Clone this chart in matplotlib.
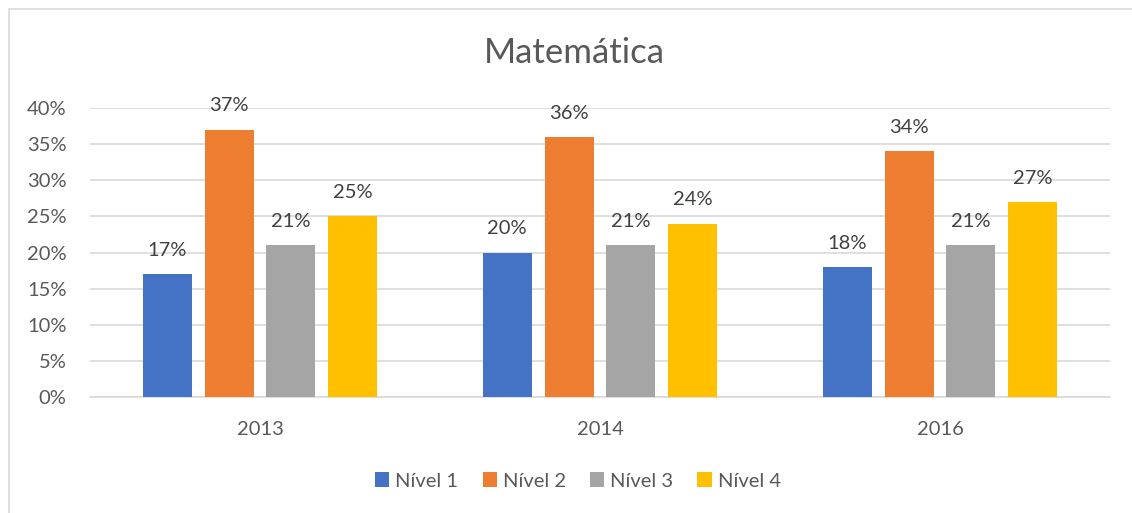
import matplotlib
matplotlib.use("Agg")
import matplotlib.pyplot as plt
import numpy as np
from matplotlib.patches import Rectangle

plt.rcParams['font.family'] = ['Lato', 'DejaVu Sans']

anos = ['2013', '2014', '2016']
niveis = ['Nível 1', 'Nível 2', 'Nível 3', 'Nível 4']
valores = {
    'Nível 1': [17, 20, 18],
    'Nível 2': [37, 36, 34],
    'Nível 3': [21, 21, 21],
    'Nível 4': [25, 24, 27],
}
cores = ['#4472C4', '#ED7D31', '#A5A5A5', '#FFC000']
yticks = [0, 5, 10, 15, 20, 25, 30, 35, 40]

W, H = 1132, 513
fig = plt.figure(figsize=(W / 100, H / 100), dpi=100)
fig.patch.set_facecolor('white')

# moldura do gráfico (só aparecem lados esquerdo e superior)
fig.patches.append(Rectangle((9 / W, -20 / H), 1200 / W, (504 + 20) / H,
                             transform=fig.transFigure, fill=False,
                             edgecolor='#d9d9d9', linewidth=1.2))

ax = fig.add_axes([90 / W, (H - 397) / H, 1020 / W, (397 - 108) / H])
texto = '#595959'
fs = 14.5

x = np.arange(len(anos))
larg = 0.144
passo = 0.182
for i, nv in enumerate(niveis):
    pos = x + (i - 1.5) * passo
    barras = ax.bar(pos, valores[nv], width=larg, color=cores[i], label=nv, zorder=3)
    for b, v in zip(barras, valores[nv]):
        ax.annotate(f'{v}%', (b.get_x() + b.get_width() / 2, v),
                    xytext=(0, 11), textcoords='offset points',
                    ha='center', va='bottom', fontsize=fs, color='#404040')

ax.set_xlim(-0.5, 2.5)
ax.set_ylim(0, 40)
ax.set_yticks(yticks)
ax.set_yticklabels([f'{t}%' for t in yticks])
ax.set_xticks(x)
ax.set_xticklabels(anos)
ax.grid(axis='y', color='#d9d9d9', linewidth=1.2, zorder=0)
for s in ['top', 'right', 'left']:
    ax.spines[s].set_visible(False)
ax.spines['bottom'].set_color('#d9d9d9')
ax.spines['bottom'].set_linewidth(1.2)
ax.tick_params(axis='both', length=0, labelsize=fs, colors=texto)
ax.tick_params(axis='x', pad=17)
ax.tick_params(axis='y', pad=17)

fig.text(574 / W, 1 - 53 / H, 'Matemática', ha='center', va='center',
         fontsize=25, color=texto)

leg = fig.legend(loc='center', bbox_to_anchor=(578 / W, 1 - 481 / H), ncol=4,
                 frameon=False, fontsize=fs, handlelength=0.7, handleheight=0.7,
                 handletextpad=0.3, columnspacing=1.2)
for t in leg.get_texts():
    t.set_color(texto)

fig.savefig('out.png', dpi=100)
